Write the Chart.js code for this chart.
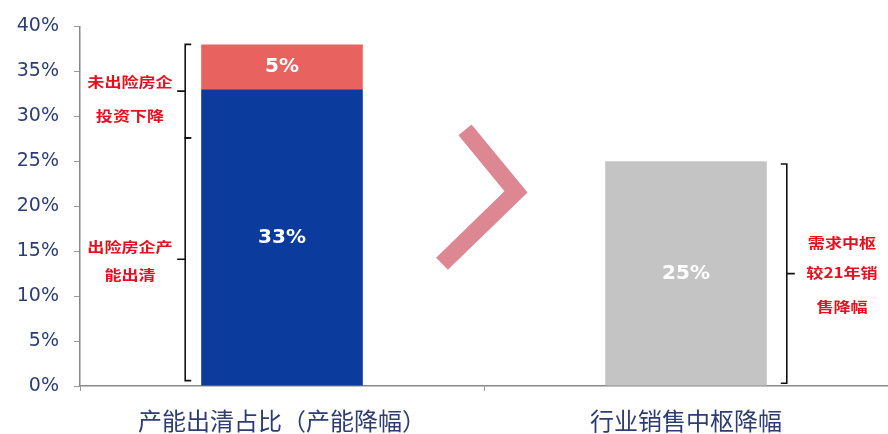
<!DOCTYPE html>
<html lang="zh">
<head>
  <meta charset="UTF-8">
  <title>产能出清与销售中枢降幅</title>
  <script src="https://cdn.jsdelivr.net/npm/chart.js"></script>
  <style>
    html, body { margin: 0; padding: 0; background: #fff; }
    #wrap { width: 888px; height: 434px; position: relative; }
  </style>
</head>
<body>
  <div id="wrap"><canvas id="chart"></canvas></div>

  <script>
    const categories = ['产能出清占比（产能降幅）', '行业销售中枢降幅'];
    const clearedShare = [33, null];   // 出险房企产能出清
    const investDrop = [5, null];      // 未出险房企投资下降
    const salesDrop = [null, 25];      // 需求中枢较21年销售降幅
    const yMax = 40;
    const yStep = 5;

    const CJK = '"Noto Sans CJK SC", "Noto Sans", sans-serif';
    const LATIN = '"DejaVu Sans", "Liberation Sans", sans-serif';
    const navy = '#2d3d73';
    const noteRed = '#e8101e';

    // white value labels inside each bar segment
    const valueLabels = {
      id: 'valueLabels',
      afterDatasetsDraw(chart) {
        const ctx = chart.ctx;
        ctx.save();
        ctx.fillStyle = '#fff';
        ctx.textAlign = 'center';
        ctx.textBaseline = 'middle';
        ctx.font = 'bold 20px ' + LATIN;
        chart.data.datasets.forEach((ds, i) => {
          chart.getDatasetMeta(i).data.forEach((bar, j) => {
            const v = ds.data[j];
            if (v == null) return;
            ctx.fillText(v + '%', bar.x, (bar.y + bar.base) / 2);
          });
        });
        ctx.restore();
      }
    };

    // braces, notes and the ">" sign
    const notes = {
      id: 'notes',
      afterDraw(chart) {
        const ctx = chart.ctx;
        const y = chart.scales.y;
        const x = chart.scales.x;
        const bar1 = chart.getDatasetMeta(0).data[0];
        const bar2 = chart.getDatasetMeta(2).data[1];

        function brace(bx, from, to, dir) {
          const top = y.getPixelForValue(from);
          const bot = y.getPixelForValue(to);
          const mid = (top + bot) / 2;
          ctx.beginPath();
          ctx.moveTo(bx - dir * 6, top);
          ctx.lineTo(bx, top);
          ctx.lineTo(bx, bot);
          ctx.lineTo(bx - dir * 6, bot);
          ctx.moveTo(bx, mid);
          ctx.lineTo(bx + dir * 8, mid);
          ctx.stroke();
        }

        function note(text, cx, cy) {
          // text in the notes is set a little wide
          ctx.save();
          ctx.translate(cx, cy);
          ctx.scale(1.22, 1);
          ctx.fillText(text, 0, 0);
          ctx.restore();
        }

        ctx.save();
        ctx.strokeStyle = '#111';
        ctx.lineWidth = 1.6;
        const lx = bar1.x - bar1.width / 2 - 16;
        brace(lx, 38, 27.6, -1);
        brace(lx, 27.6, 0.6, -1);
        const rx = bar2.x + bar2.width / 2 + 20;
        brace(rx, 24.7, 0.3, 1);

        ctx.fillStyle = noteRed;
        ctx.textAlign = 'center';
        ctx.textBaseline = 'middle';
        ctx.font = 'bold 14px ' + CJK;
        note('未出险房企', 130, 82);
        note('投资下降', 130, 116);
        note('出险房企产', 130, 247);
        note('能出清', 130, 275);
        note('需求中枢', 842, 243);
        note('较21年销', 842, 273);
        note('售降幅', 842, 307);

        // ">" between the two bars
        const cx = (x.getPixelForValue(0) + x.getPixelForValue(1)) / 2;
        ctx.strokeStyle = '#dd8793';
        ctx.lineWidth = 17;
        ctx.lineJoin = 'miter';
        ctx.lineCap = 'butt';
        ctx.beginPath();
        ctx.moveTo(cx - 19, y.getPixelForValue(28.5));
        ctx.lineTo(cx + 32, y.getPixelForValue(21.6));
        ctx.lineTo(cx - 42, y.getPixelForValue(13.6));
        ctx.stroke();
        ctx.restore();
      }
    };

    new Chart(document.getElementById('chart'), {
      type: 'bar',
      data: {
        labels: categories,
        datasets: [
          { label: '出险房企产能出清', data: clearedShare, backgroundColor: '#0b3b9c' },
          { label: '未出险房企投资下降', data: investDrop, backgroundColor: '#e8625f' },
          { label: '销售中枢降幅', data: salesDrop, backgroundColor: '#c4c4c4' }
        ]
      },
      options: {
        responsive: true,
        maintainAspectRatio: false,
        animation: false,
        layout: { padding: { top: 25, right: 0, left: 0, bottom: 0 } },
        datasets: { bar: { barPercentage: 0.8, categoryPercentage: 0.5 } },
        plugins: { legend: { display: false }, tooltip: { enabled: false } },
        scales: {
          x: {
            stacked: true,
            grid: { drawOnChartArea: false, tickLength: 5, color: '#999' },
            border: { color: '#888', width: 1.5 },
            ticks: { color: navy, padding: 15, font: { size: 24, family: CJK } },
            afterFit(s) { s.height = 48; }
          },
          y: {
            stacked: true,
            min: 0,
            max: yMax,
            grid: { drawOnChartArea: false, tickLength: 6, color: '#999' },
            border: { color: '#888', width: 1.5 },
            ticks: {
              stepSize: yStep,
              color: navy,
              padding: 15,
              font: { size: 19, family: LATIN },
              callback: v => v + '%'
            },
            afterFit(s) { s.width = 80; }
          }
        }
      },
      plugins: [valueLabels, notes]
    });
  </script>
</body>
</html>
